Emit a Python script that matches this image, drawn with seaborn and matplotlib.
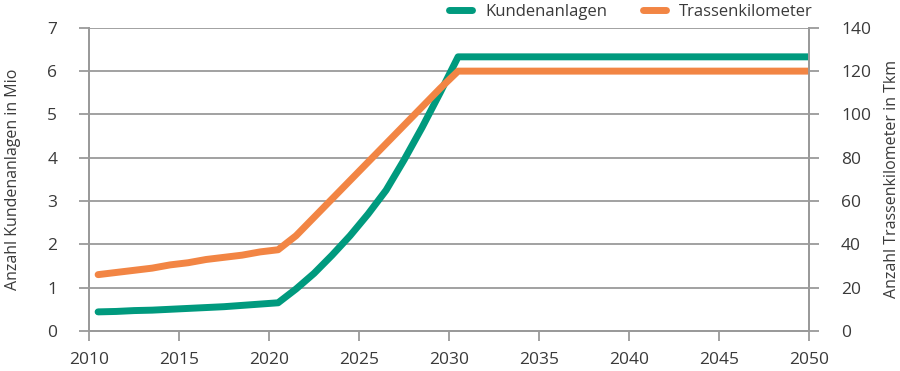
import numpy as np
import pandas as pd
import matplotlib
matplotlib.use("Agg")
import matplotlib.pyplot as plt
import seaborn as sns

# Daten (Werte jeweils zur Jahresmitte)
jahre = list(range(2010, 2051))
kundenanlagen = [0.44, 0.45, 0.47, 0.48, 0.50, 0.52, 0.54, 0.56, 0.59, 0.62,
                 0.65, 0.97, 1.33, 1.75, 2.20, 2.70, 3.25, 3.95, 4.70, 5.50,
                 6.33] + [6.33] * 20
trassenkilometer = [26.0, 27.0, 28.0, 29.0, 30.5, 31.5, 33.0, 34.0, 35.0, 36.5,
                    37.5, 44.0, 52.5, 61.0, 69.5, 78.0, 86.5, 95.0, 103.5, 112.0,
                    120.0] + [120.0] * 20

df = pd.DataFrame({"Jahr": np.array(jahre) + 0.5,
                   "Kundenanlagen": kundenanlagen,
                   "Trassenkilometer": trassenkilometer})

gruen = "#009a7e"
orange = "#f28544"
grau = "#9a9a9a"
text = "#3a3a3a"

sns.set_style("white")
plt.rcParams["font.family"] = ["Open Sans", "DejaVu Sans"]
plt.rcParams["font.size"] = 12.5
plt.rcParams["text.color"] = text
plt.rcParams["axes.labelcolor"] = text
plt.rcParams["xtick.color"] = text
plt.rcParams["ytick.color"] = text

fig, ax = plt.subplots(figsize=(9, 3.71), dpi=100)
fig.subplots_adjust(left=0.099, right=0.899, bottom=0.108, top=0.925)
ax2 = ax.twinx()

sns.lineplot(data=df, x="Jahr", y="Kundenanlagen", ax=ax, color=gruen,
             linewidth=5, solid_capstyle="round", label="Kundenanlagen", legend=False)
sns.lineplot(data=df, x="Jahr", y="Trassenkilometer", ax=ax2, color=orange,
             linewidth=5, solid_capstyle="round", label="Trassenkilometer", legend=False)

ax.set_xlim(2010, 2050)
ax.set_ylim(0, 7)
ax2.set_ylim(0, 140)
ax.set_xticks(range(2010, 2051, 5))
ax.set_yticks(range(0, 8))
ax2.set_yticks(range(0, 141, 20))

ax.set_xlabel("")
ax.set_ylabel("Anzahl Kundenanlagen in Mio", fontsize=11.5, labelpad=19)
ax2.set_ylabel("Anzahl Trassenkilometer in Tkm", fontsize=11.5, labelpad=9)

ax.yaxis.grid(True, color=grau, linewidth=1.3)
ax.set_axisbelow(True)
for a in (ax, ax2):
    a.spines["top"].set_visible(False)
    for s in ("left", "right", "bottom"):
        a.spines[s].set_color(grau)
        a.spines[s].set_linewidth(1.3)
    a.tick_params(axis="both", length=7, width=1.3, color=grau)
ax.tick_params(axis="y", left=True, pad=16)
ax.tick_params(axis="x", bottom=True, pad=8)
ax2.tick_params(axis="y", right=True, pad=16)

handles = ax.get_lines()[:1] + ax2.get_lines()[:1]
leg = fig.legend(handles, ["Kundenanlagen", "Trassenkilometer"], loc="upper right",
                 bbox_to_anchor=(0.92, 1.03), ncol=2, frameon=False, fontsize=12,
                 handlelength=1.4, columnspacing=2.1, handletextpad=0.8)

fig.savefig("out.png", dpi=100)
